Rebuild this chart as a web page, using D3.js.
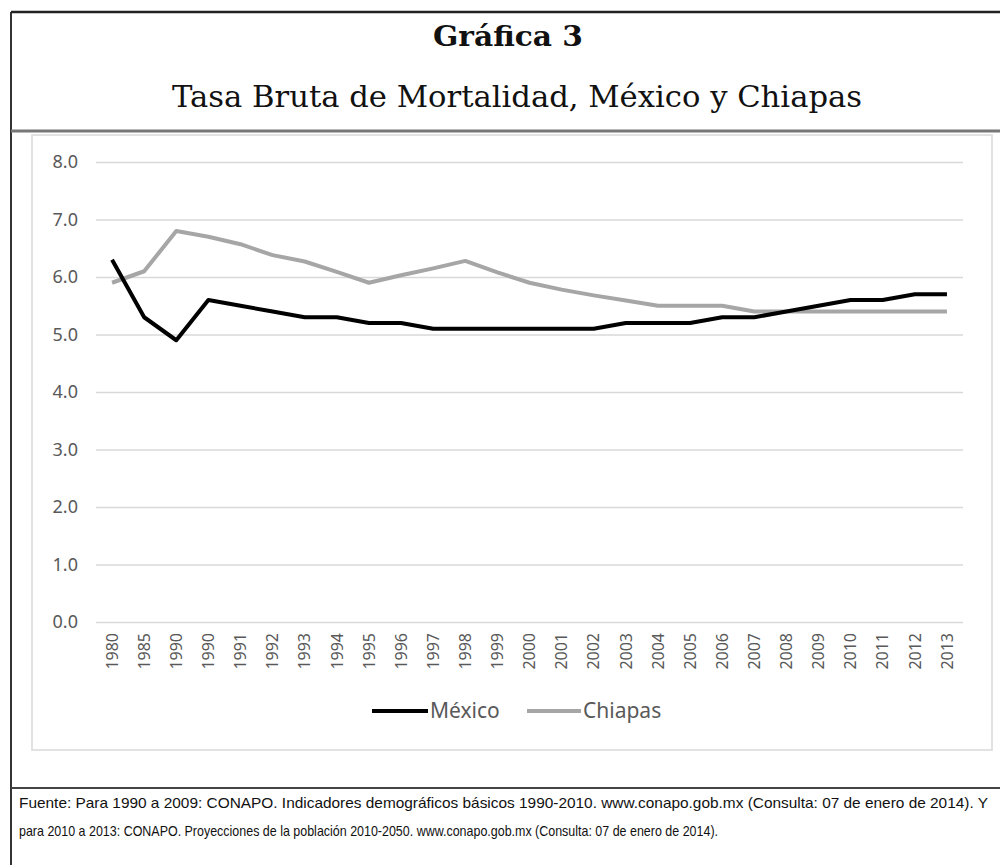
<!DOCTYPE html>
<html>
<head>
<meta charset="utf-8">
<script src="https://cdn.jsdelivr.net/npm/d3@7"></script>
<style>
  html, body { margin: 0; padding: 0; background: #fff; }
  svg { display: block; }
</style>
</head>
<body>
<svg id="chart" width="1000" height="865"></svg>
<script>
const years = ["1980","1985","1990","1990","1991","1992","1993","1994","1995","1996","1997","1998","1999","2000","2001","2002","2003","2004","2005","2006","2007","2008","2009","2010","2011","2012","2013"];
const mexico = [6.3,5.3,4.9,5.6,5.5,5.4,5.3,5.3,5.2,5.2,5.1,5.1,5.1,5.1,5.1,5.1,5.2,5.2,5.2,5.3,5.3,5.4,5.5,5.6,5.6,5.7,5.7];
const chiapas = [5.9,6.1,6.8,6.7,6.57,6.38,6.27,6.09,5.9,6.03,6.15,6.28,6.08,5.9,5.78,5.68,5.59,5.5,5.5,5.5,5.4,5.4,5.4,5.4,5.4,5.4,5.4];
const yTicks = [0,1,2,3,4,5,6,7,8];
const seriesNames = ["México","Chiapas"];
const titleMain = "Gráfica 3";
const titleSub = "Tasa Bruta de Mortalidad, México y Chiapas";
const sourceLines = [
  "Fuente: Para 1990 a 2009: CONAPO. Indicadores demográficos básicos 1990-2010. www.conapo.gob.mx (Consulta: 07 de enero de 2014). Y",
  "para 2010 a 2013: CONAPO. Proyecciones de la población 2010-2050. www.conapo.gob.mx (Consulta: 07 de enero de 2014)."
];

const svg = d3.select("#chart");
svg.append("rect").attr("width",1000).attr("height",865).attr("fill","#fff");

// frame
svg.append("line").attr("x1",11).attr("y1",12).attr("x2",11).attr("y2",865).attr("stroke","#333").attr("stroke-width",2);
svg.append("line").attr("x1",11).attr("y1",12).attr("x2",1000).attr("y2",12).attr("stroke","#222").attr("stroke-width",2.5);
svg.append("line").attr("x1",11).attr("y1",131).attr("x2",1000).attr("y2",131).attr("stroke","#777").attr("stroke-width",3);
svg.append("line").attr("x1",11).attr("y1",788).attr("x2",1000).attr("y2",788).attr("stroke","#444").attr("stroke-width",2);
svg.append("rect").attr("x",32).attr("y",135).attr("width",960).attr("height",615)
  .attr("fill","none").attr("stroke","#d9d9d9").attr("stroke-width",1.5);

// titles
svg.append("text").attr("x",508).attr("y",46).attr("text-anchor","middle")
  .attr("font-family","DejaVu Serif").attr("font-weight","bold").attr("font-size",27)
  .attr("textLength",150).attr("lengthAdjust","spacingAndGlyphs")
  .attr("fill","#111").text(titleMain);
svg.append("text").attr("x",517).attr("y",107).attr("text-anchor","middle")
  .attr("font-family","DejaVu Serif").attr("font-size",30)
  .attr("textLength",690).attr("lengthAdjust","spacingAndGlyphs")
  .attr("fill","#111").text(titleSub);

// scales
const x = d3.scaleBand().domain(d3.range(years.length)).range([96,963]);
const cx = i => x(i) + x.bandwidth()/2;
const y = d3.scaleLinear().domain([0,8]).range([622,162]);

// y axis + grid
const yAxis = svg.append("g").attr("transform","translate(96,0)")
  .call(d3.axisLeft(y).tickValues(yTicks).tickSize(-867).tickPadding(18).tickFormat(d3.format(".1f")));
yAxis.select(".domain").remove();
yAxis.selectAll(".tick line").attr("stroke","#d9d9d9").attr("stroke-width",1.5);
yAxis.selectAll(".tick text").attr("font-family","Noto Sans").attr("font-size",18).attr("fill","#595959");

// x axis labels
const xAxis = svg.append("g").attr("transform","translate(0,622)")
  .call(d3.axisBottom(x).tickSize(0).tickFormat(i => years[i]));
xAxis.select(".domain").remove();
xAxis.selectAll(".tick text")
  .attr("font-family","Noto Sans").attr("font-size",16).attr("fill","#595959")
  .attr("transform","rotate(-90)").attr("text-anchor","end")
  .attr("x",-11).attr("y",0).attr("dy","0.36em");

// lines
const line = d3.line().x((d,i) => cx(i)).y(d => y(d));
svg.append("path").datum(chiapas).attr("d",line).attr("fill","none")
  .attr("stroke","#a6a6a6").attr("stroke-width",4).attr("stroke-linejoin","round");
svg.append("path").datum(mexico).attr("d",line).attr("fill","none")
  .attr("stroke","#000").attr("stroke-width",4).attr("stroke-linejoin","round");

// legend
const legend = [
  {name: seriesNames[0], color:"#000", x1:372, x2:428},
  {name: seriesNames[1], color:"#a6a6a6", x1:527, x2:581}
];
const lg = svg.append("g");
legend.forEach(l => {
  lg.append("line").attr("x1",l.x1).attr("x2",l.x2).attr("y1",711).attr("y2",711)
    .attr("stroke",l.color).attr("stroke-width",4);
  lg.append("text").attr("x",l.x2+2).attr("y",711).attr("dy","0.35em")
    .attr("font-family","Noto Sans").attr("font-size",21).attr("fill","#595959").text(l.name);
});

// source
svg.append("text").attr("x",19).attr("y",808)
  .attr("font-family","Liberation Sans Narrow, Liberation Sans").attr("font-size",15)
  .attr("textLength",969).attr("lengthAdjust","spacingAndGlyphs")
  .attr("fill","#111").text(sourceLines[0]);
svg.append("text").attr("x",19).attr("y",836)
  .attr("font-family","Liberation Sans Narrow, Liberation Sans").attr("font-size",15)
  .attr("textLength",699).attr("lengthAdjust","spacingAndGlyphs")
  .attr("fill","#111").text(sourceLines[1]);
</script>
</body>
</html>
